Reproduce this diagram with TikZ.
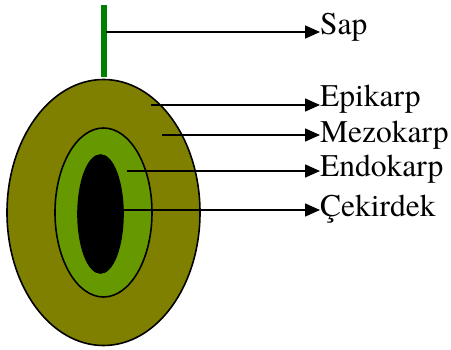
\documentclass[tikz,border=0pt]{standalone}
\usepackage{fontspec}
\setmainfont{TeX Gyre Termes}
\usetikzlibrary{shapes.geometric, arrows.meta}
\definecolor{ZeytinKabuk}{HTML}{808000}
\definecolor{ZeytinEndo}{HTML}{669900}
\definecolor{ZeytinSap}{HTML}{008000}

\begin{document}
\begin{tikzpicture}[
            x=1pt, y=-1pt,
            layer/.style={draw=black, line width=1.6pt, ellipse, inner sep=0pt},
            label/.style={anchor=base west, inner sep=0pt, font=\fontsize{31.5}{31.5}\selectfont},
            pointer/.style={-{Triangle[length=15pt, width=13pt]}, line width=1.6pt, black}
        ]
            \useasboundingbox (0,0) rectangle (451,350);
            % stem and the three layers of the fruit
            \draw[ZeytinSap, line width=5.5pt] (104,5) -- (104,77);
            \node[layer, fill=ZeytinKabuk, minimum width=193pt, minimum height=266pt] (kabuk) at (103.5,212.5) {};
            \node[layer, fill=ZeytinEndo, minimum width=97pt, minimum height=169pt] (endo) at (103.5,212.5) {};
            \node[layer, fill=black, minimum width=45pt, minimum height=118pt] (cekirdek) at (100.5,214) {};

            % labels
            \node[label] (lsap) at (320,35) {Sap};
            \node[label] (lepi) at (320,107) {Epikarp};
            \node[label] (lmezo) at (320,143) {Mezokarp};
            \node[label] (lendo) at (320,177) {Endokarp};
            \node[label] (lcek) at (320,217) {Çekirdek};

            % start points of the pointers
            \coordinate (psap) at (106,32);
            \coordinate (pepi) at (151,105);
            \coordinate (pmezo) at (162,135);
            \coordinate (pendo) at (127,171);
            \coordinate (pcek) at (123,210);

            \draw[pointer] (psap) -- (psap -| lsap.west);
            \draw[pointer] (pepi) -- (pepi -| lepi.west);
            \draw[pointer] (pmezo) -- (pmezo -| lmezo.west);
            \draw[pointer] (pendo) -- (pendo -| lendo.west);
            \draw[pointer] (pcek) -- (pcek -| lcek.west);
        \end{tikzpicture}
\end{document}
